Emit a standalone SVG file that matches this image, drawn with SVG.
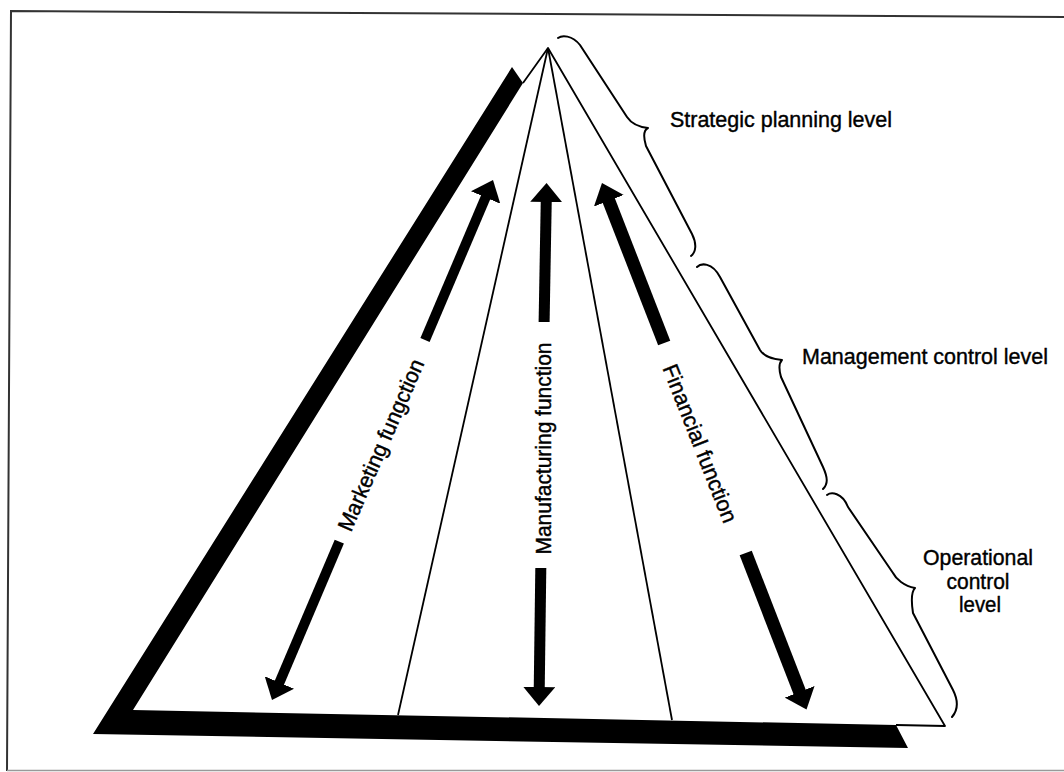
<svg xmlns="http://www.w3.org/2000/svg" width="1064" height="772" viewBox="0 0 1064 772">
<style>
.thin{fill:none;stroke:#000;stroke-width:1.8;stroke-linejoin:round}
.brace{fill:none;stroke:#000;stroke-width:2;stroke-linecap:round;stroke-linejoin:round}
.shaft{stroke:#000;fill:none}
.lbl{font-family:"Liberation Sans",Arial,Helvetica,sans-serif;font-size:22px;fill:#000;stroke:#000;stroke-width:0.4}
</style>
<defs>
<marker id="head" viewBox="0 0 19 32" markerUnits="userSpaceOnUse" markerWidth="19" markerHeight="32" refX="1" refY="16" orient="auto">
<path d="M0,0 L19,16 L0,32 z" fill="#000"/>
</marker>
</defs>
<rect width="1064" height="772" fill="#fff"/>
<g id="frame">
<path d="M7,771 L11,11 L1064,17" fill="none" stroke="#333" stroke-width="2"/>
<line x1="7" y1="770.5" x2="1064" y2="770.5" stroke="#999" stroke-width="1.5"/>
</g>
<g id="pyramid">
<path d="M512,67 L523,83 L133,710 L896,725 L908,748 L93,734 z" fill="#000"/>
<path class="thin" d="M523,83 L548,48 L945,726 L896,725"/>
<path class="thin" d="M548,48 L398,715"/>
<path class="thin" d="M548,48 L672,720"/>
</g>
<g id="connectors">
<line class="shaft" stroke-width="10" x1="425" y1="340" x2="485.96" y2="196.56" marker-end="url(#head)"/>
<line class="shaft" stroke-width="10" x1="339.3" y1="541.6" x2="279.04" y2="683.44" marker-end="url(#head)"/>
<line class="shaft" stroke-width="11" x1="544.1" y1="322" x2="546.24" y2="201" marker-end="url(#head)"/>
<line class="shaft" stroke-width="11" x1="540.8" y1="568" x2="539.24" y2="688" marker-end="url(#head)"/>
<line class="shaft" stroke-width="13" x1="664.2" y1="343" x2="608.5" y2="199.8" marker-end="url(#head)"/>
<line class="shaft" stroke-width="13" x1="745.7" y1="553" x2="800" y2="692.8" marker-end="url(#head)"/>
</g>
<g id="marketing">
<text class="lbl" transform="translate(381,445) rotate(-66.5)" x="0" y="7.5" text-anchor="middle" textLength="185" lengthAdjust="spacingAndGlyphs">Marketing fungction</text>
</g>
<g id="manufacturing">
<text class="lbl" transform="translate(543,448.5) rotate(-90)" x="0" y="7.5" text-anchor="middle" textLength="212" lengthAdjust="spacingAndGlyphs">Manufacturing function</text>
</g>
<g id="financial">
<text class="lbl" transform="translate(700,443.5) rotate(68.5)" x="0" y="7.5" text-anchor="middle" textLength="168" lengthAdjust="spacingAndGlyphs">Financial function</text>
</g>
<g id="strategic">
<path class="brace" d="M558,38 C562,35 572,35 580,45 L627,117 C631,123 639,127 648,128 C644,130 643,136 646,146 L692,234 C697,244 696,252 691,256"/>
<text class="lbl" x="670" y="127" textLength="222" lengthAdjust="spacingAndGlyphs">Strategic planning level</text>
</g>
<g id="management">
<path class="brace" d="M697,267 C701,263 712,262 720,277 L760,350 C763,355 770,359 782,360 C779,363 779,370 781,377 L823,467 C828,478 828,484 823,489"/>
<text class="lbl" x="802" y="364" textLength="246" lengthAdjust="spacingAndGlyphs">Management control level</text>
</g>
<g id="operational">
<path class="brace" d="M827,495 C831,492 842,492 848,507 L893,573 C896,579 904,586 915,588 C911,592 911,600 913,613 L953,690 C958,700 958,710 952,717"/>
<text class="lbl" text-anchor="middle"><tspan x="978" y="565" textLength="110" lengthAdjust="spacingAndGlyphs">Operational</tspan><tspan x="978" y="588.5" textLength="63" lengthAdjust="spacingAndGlyphs">control</tspan><tspan x="980" y="612" textLength="42" lengthAdjust="spacingAndGlyphs">level</tspan></text>
</g>
</svg>
